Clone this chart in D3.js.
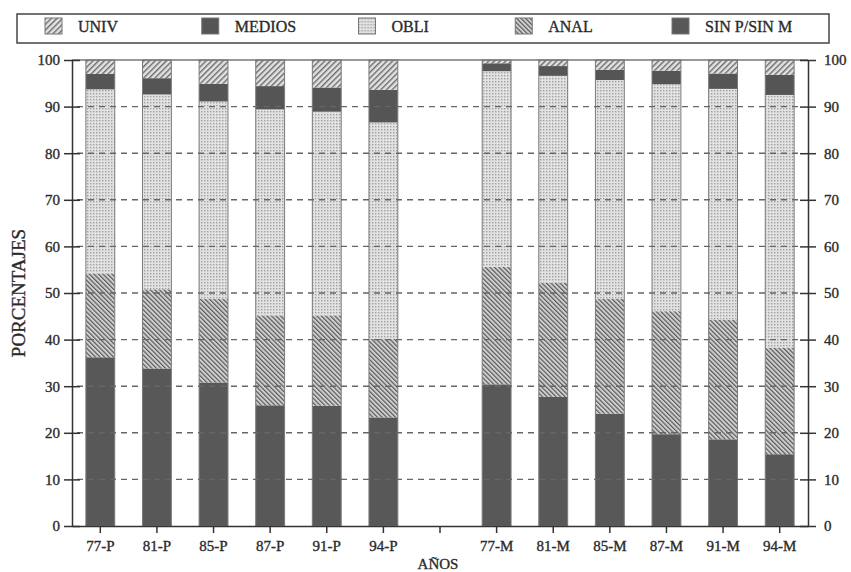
<!DOCTYPE html>
<html>
<head>
<meta charset="utf-8">
<script src="https://cdn.jsdelivr.net/npm/d3@7"></script>
<style>
  body { margin: 0; background: #fff; }
  svg text { font-family: 'Liberation Serif', 'DejaVu Serif', serif; fill: #2b2b2b; stroke: #2b2b2b; stroke-width: 0.35px; }
</style>
</head>
<body>
<div id="chart"></div>
<script>
// Categories (P and M groups)
var categories = ['77-P', '81-P', '85-P', '87-P', '91-P', '94-P', '77-M', '81-M', '85-M', '87-M', '91-M', '94-M']

// Series values, percent, stacked from bottom to top
var sinValues = [36.2, 33.8, 30.8, 25.9, 25.8, 23.3, 30.4, 27.7, 24.1, 19.7, 18.6, 15.4]
var analValues = [18.0, 17.0, 18.0, 19.3, 19.4, 16.9, 25.2, 24.5, 24.7, 26.4, 25.7, 22.9]
var obliValues = [39.5, 41.8, 42.3, 44.2, 43.7, 46.4, 42.0, 44.4, 46.9, 48.7, 49.5, 54.2]
var mediosValues = [3.3, 3.5, 3.8, 5.0, 5.2, 7.0, 1.7, 2.1, 2.2, 2.9, 3.3, 4.3]
var univValues = [3.0, 3.9, 5.1, 5.6, 5.9, 6.4, 0.7, 1.3, 2.1, 2.3, 2.9, 3.2]

// Tick labels
var yTicks = [0, 10, 20, 30, 40, 50, 60, 70, 80, 90, 100]

// Legend labels (left to right) and stack keys (bottom to top)
var legendLabels = ['UNIV', 'MEDIOS', 'OBLI', 'ANAL', 'SIN P/SIN M']
var stackKeys = ['SIN P/SIN M', 'ANAL', 'OBLI', 'MEDIOS', 'UNIV']

// Layout
var width = 851
var height = 572
var plot = { left: 72, right: 808, top: 60, bottom: 526 }

// Fill for every series
var fills = {
  'UNIV': 'url(#patUniv)',
  'MEDIOS': '#555555',
  'OBLI': 'url(#patObli)',
  'ANAL': 'url(#patAnal)',
  'SIN P/SIN M': '#585858'
}

// Build rows for d3.stack
var rows = categories.map(function (c, i) {
  return {
    cat: c,
    'SIN P/SIN M': sinValues[i],
    'ANAL': analValues[i],
    'OBLI': obliValues[i],
    'MEDIOS': mediosValues[i],
    'UNIV': univValues[i]
  }
})

var svg = d3.select('#chart').append('svg')
  .attr('width', width)
  .attr('height', height)

// Fill patterns
var defs = svg.append('defs')

var pUniv = defs.append('pattern')
  .attr('id', 'patUniv')
  .attr('patternUnits', 'userSpaceOnUse')
  .attr('width', 4).attr('height', 4)
  .attr('patternTransform', 'rotate(45)')
pUniv.append('rect').attr('width', 4).attr('height', 4).attr('fill', '#e2e2e2')
pUniv.append('line').attr('x1', 0.7).attr('x2', 0.7).attr('y1', 0).attr('y2', 4)
  .attr('stroke', '#6a6a6a').attr('stroke-width', 1.4)

var pAnal = defs.append('pattern')
  .attr('id', 'patAnal')
  .attr('patternUnits', 'userSpaceOnUse')
  .attr('width', 3.2).attr('height', 3.2)
  .attr('patternTransform', 'rotate(-45)')
pAnal.append('rect').attr('width', 3.2).attr('height', 3.2).attr('fill', '#d0d0d0')
pAnal.append('line').attr('x1', 0.6).attr('x2', 0.6).attr('y1', 0).attr('y2', 3.2)
  .attr('stroke', '#595959').attr('stroke-width', 1.2)

var pObli = defs.append('pattern')
  .attr('id', 'patObli')
  .attr('patternUnits', 'userSpaceOnUse')
  .attr('width', 3).attr('height', 3)
pObli.append('rect').attr('width', 3).attr('height', 3).attr('fill', '#e2e2e2')
pObli.append('rect').attr('width', 1.4).attr('height', 1.4).attr('fill', '#a0a0a0')

// Scales. A blank slot separates the P group from the M group
var xDomain = categories.slice(0, 6).concat([' ']).concat(categories.slice(6))

var x = d3.scaleBand()
  .domain(xDomain)
  .range([plot.left, plot.right])
  .paddingInner(0.49)
  .paddingOuter(0.245)

var y = d3.scaleLinear()
  .domain([0, 100])
  .range([plot.bottom, plot.top])

// Stacked bars
var series = d3.stack().keys(stackKeys)(rows)

svg.append('g').selectAll('g')
  .data(series)
  .enter().append('g')
  .attr('fill', function (d) { return fills[d.key] })
  .selectAll('rect')
  .data(function (d) { return d })
  .enter().append('rect')
  .attr('x', function (d) { return x(d.data.cat) })
  .attr('width', x.bandwidth())
  .attr('y', function (d) { return y(d[1]) })
  .attr('height', function (d) { return y(d[0]) - y(d[1]) })

// Thin outline round each bar
svg.append('g').selectAll('rect')
  .data(rows)
  .enter().append('rect')
  .attr('x', function (d) { return x(d.cat) })
  .attr('width', x.bandwidth())
  .attr('y', y(100))
  .attr('height', y(0) - y(100))
  .attr('fill', 'none')
  .attr('stroke', '#7a7a7a')
  .attr('stroke-width', 1)

// Dashed grid lines (drawn over the bars, like the original)
svg.append('g').selectAll('line')
  .data(yTicks.filter(function (t) { return t > 0 && t < 100 }))
  .enter().append('line')
  .attr('x1', plot.left + 5)
  .attr('x2', plot.right - 5)
  .attr('y1', function (d) { return y(d) })
  .attr('y2', function (d) { return y(d) })
  .attr('stroke', '#666')
  .attr('stroke-width', 1.4)
  .attr('stroke-dasharray', '6,5')

// Solid line at 100
svg.append('line')
  .attr('x1', plot.left).attr('x2', plot.right)
  .attr('y1', y(100)).attr('y2', y(100))
  .attr('stroke', '#777')
  .attr('stroke-width', 1.6)

// Left axis
var leftAxis = svg.append('g')
  .attr('transform', 'translate(' + plot.left + ',0)')
  .call(d3.axisLeft(y).tickValues(yTicks).tickSize(8).tickSizeOuter(0).tickPadding(4))
leftAxis.selectAll('.tick line').attr('x1', 8)

// Right axis
var rightAxis = svg.append('g')
  .attr('transform', 'translate(' + plot.right + ',0)')
  .call(d3.axisRight(y).tickValues(yTicks).tickSize(8).tickSizeOuter(0).tickPadding(8))
rightAxis.selectAll('.tick line').attr('x1', -8)

// Bottom axis
svg.append('g')
  .attr('transform', 'translate(0,' + plot.bottom + ')')
  .call(d3.axisBottom(x).tickSize(7).tickSizeOuter(0).tickPadding(7))

svg.selectAll('.domain').attr('stroke', '#333').attr('stroke-width', 1.5)
svg.selectAll('.tick line').attr('stroke', '#333').attr('stroke-width', 1.5)
svg.selectAll('.tick text')
  .style('font-family', "'Liberation Serif', serif")
  .style('font-size', '15px')
  .attr('fill', '#2b2b2b')

// Axis titles
svg.append('text')
  .attr('transform', 'translate(25,' + ((plot.top + plot.bottom) / 2) + ') rotate(-90)')
  .attr('text-anchor', 'middle')
  .style('font-size', '19px')
  .text('PORCENTAJES')

svg.append('text')
  .attr('x', 438)
  .attr('y', 569)
  .attr('text-anchor', 'middle')
  .style('font-size', '15px')
  .text('AÑOS')

// Legend
svg.append('rect')
  .attr('x', 17).attr('y', 14)
  .attr('width', 812).attr('height', 29)
  .attr('fill', 'none')
  .attr('stroke', '#444')
  .attr('stroke-width', 1.5)

var legendX = d3.scalePoint()
  .domain(legendLabels)
  .range([45, 672])

var legendItem = svg.append('g').selectAll('g')
  .data(legendLabels)
  .enter().append('g')
  .attr('transform', function (d) { return 'translate(' + legendX(d) + ',18)' })

legendItem.append('rect')
  .attr('width', 17)
  .attr('height', 16)
  .attr('fill', function (d) { return fills[d] })
  .attr('stroke', '#777')
  .attr('stroke-width', 1)

legendItem.append('text')
  .attr('x', 33)
  .attr('y', 14)
  .style('font-size', '16px')
  .text(function (d) { return d })
</script>
</body>
</html>
